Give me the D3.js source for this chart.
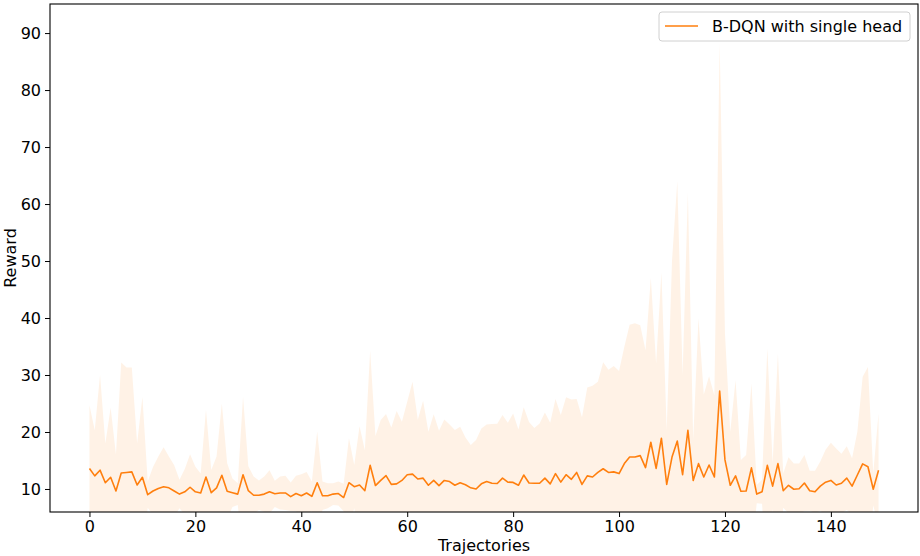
<!DOCTYPE html>
<html>
<head>
<meta charset="utf-8">
<script src="https://cdn.jsdelivr.net/npm/d3@7"></script>
<style>
  html, body { margin: 0; padding: 0; background: #ffffff; }
  svg { display: block; }
  text { font-family: "DejaVu Sans", sans-serif; }
</style>
</head>
<body>
<svg id="chart" width="920" height="556"></svg>
<script>
// ---- data ----
const seriesName = "B-DQN with single head";
const meanReward = [
  13.6, 12.3, 13.3, 11.1, 12.05, 9.65, 12.8, 12.9, 13.0, 10.7,
  12.05, 9.0, 9.65, 10.1, 10.4, 10.2, 9.65, 9.1, 9.5, 10.3,
  9.5, 9.3, 12.1, 9.35, 10.2, 12.4, 9.6, 9.35, 9.1, 12.5,
  9.7, 8.9, 8.9, 9.1, 9.5, 9.15, 9.3, 9.3, 8.65, 9.2,
  8.8, 9.3, 8.7, 11.1, 8.8, 8.8, 9.1, 9.2, 8.5, 11.1,
  10.4, 10.7, 9.7, 14.15, 10.6, 11.5, 12.35, 10.8, 10.9, 11.5,
  12.5, 12.6, 11.75, 11.9, 10.65, 11.5, 10.6, 11.5, 11.3, 10.65,
  11.1, 10.75, 10.2, 10.0, 10.9, 11.3, 11.0, 10.95, 11.9, 11.2,
  11.15, 10.65, 12.45, 11.05, 11.0, 11.0, 11.9, 10.9, 12.7, 11.2,
  12.5, 11.7, 12.9, 10.8, 12.3, 12.1, 12.9, 13.55, 12.9, 13.0,
  12.7, 14.45, 15.6, 15.6, 15.85, 13.75, 18.2, 13.6, 18.9, 10.8,
  15.6, 18.4, 12.5, 20.3, 11.5, 14.45, 12.1, 14.2, 12.1, 27.2,
  15.1, 10.65, 12.3, 9.6, 9.65, 13.7, 9.1, 9.5, 14.15, 10.5,
  14.45, 9.7, 10.65, 9.95, 10.05, 11.05, 9.7, 9.5, 10.5, 11.2,
  11.5, 10.7, 11.0, 11.9, 10.5, 12.45, 14.4, 13.9, 9.95, 13.3
];
const stdReward = [
  11.1, 8.0, 16.7, 6.9, 12.2, 6.4, 19.4, 18.4, 18.3, 7.3,
  14.1, 2.3, 4.2, 5.6, 6.9, 5.5, 4.5, 2.5, 4.0, 5.8,
  4.4, 3.4, 11.8, 4.0, 5.5, 12.6, 4.9, 2.5, 1.9, 13.7,
  4.3, 3.3, 2.6, 3.1, 3.8, 2.3, 2.9, 3.0, 2.5, 3.1,
  3.8, 3.7, 2.6, 9.0, 2.5, 2.2, 1.9, 2.1, 2.4, 7.8,
  3.8, 10.3, 7.1, 20.1, 8.7, 10.6, 10.8, 10.0, 12.8, 10.3,
  12.8, 16.2, 10.4, 13.6, 9.4, 11.6, 9.6, 10.7, 10.0, 9.7,
  9.8, 8.3, 7.5, 8.6, 9.7, 10.0, 10.4, 10.5, 11.1, 10.4,
  12.1, 9.8, 11.9, 10.7, 9.7, 10.5, 11.5, 10.7, 13.1, 11.8,
  13.6, 14.0, 12.9, 11.8, 15.5, 16.0, 15.9, 18.7, 18.0, 18.6,
  18.0, 20.5, 23.2, 23.5, 22.9, 20.6, 28.8, 18.4, 29.1, 9.5,
  34.4, 45.6, 17.5, 41.7, 7.1, 25.5, 14.5, 15.6, 14.3, 61.0,
  22.2, 9.4, 16.8, 5.5, 6.3, 14.8, 1.6, 2.1, 20.5, 4.0,
  19.3, 3.0, 4.9, 4.5, 4.4, 4.9, 3.5, 3.7, 4.3, 5.7,
  6.6, 6.4, 5.2, 5.6, 4.9, 7.6, 15.3, 17.5, 2.8, 10.0
];
const trajectories = meanReward.map((_, i) => i);
const xTicks = [0, 20, 40, 60, 80, 100, 120, 140];
const yTicks = [10, 20, 30, 40, 50, 60, 70, 80, 90];
const xLabel = "Trajectories";
const yLabel = "Reward";

// ---- layout ----
const svg = d3.select("#chart");
const L = 50, R = 918, T = 4, B = 512;
const color = "#ff7f0e";

const x = d3.scaleLinear().domain([-7.45, 156.45]).range([L, R]);
const y = d3.scaleLinear().domain([5.96, 95.1]).range([B, T]);

const data = trajectories.map(i => ({ i, m: meanReward[i], s: stdReward[i] }));

svg.append("defs").append("clipPath").attr("id", "plotclip")
  .append("rect").attr("x", L).attr("y", T).attr("width", R - L).attr("height", B - T);

const plot = svg.append("g").attr("clip-path", "url(#plotclip)");

plot.append("path")
  .datum(data)
  .attr("fill", color)
  .attr("fill-opacity", 0.1)
  .attr("stroke", "none")
  .attr("d", d3.area()
    .x(d => x(d.i))
    .y0(d => y(d.m - d.s))
    .y1(d => y(d.m + d.s)));

plot.append("path")
  .datum(data)
  .attr("fill", "none")
  .attr("stroke", color)
  .attr("stroke-width", 1.6)
  .attr("stroke-linejoin", "round")
  .attr("d", d3.line().x(d => x(d.i)).y(d => y(d.m)));

// axes
const xAxis = d3.axisBottom(x).tickValues(xTicks).tickSize(5).tickPadding(4).tickFormat(d3.format("d"));
const yAxis = d3.axisLeft(y).tickValues(yTicks).tickSize(5).tickPadding(4).tickFormat(d3.format("d"));

const gx = svg.append("g").attr("transform", `translate(0,${B})`).call(xAxis);
const gy = svg.append("g").attr("transform", `translate(${L},0)`).call(yAxis);
[gx, gy].forEach(g => {
  g.select(".domain").remove();
  g.selectAll(".tick line").attr("stroke", "#000").attr("stroke-width", 1);
  g.selectAll(".tick text").attr("fill", "#000").style("font-size", "16px")
    .style("font-family", "'DejaVu Sans', sans-serif");
});

// frame
svg.append("rect").attr("x", L).attr("y", T).attr("width", R - L).attr("height", B - T)
  .attr("fill", "none").attr("stroke", "#000").attr("stroke-width", 1.1);

// axis labels
svg.append("text").attr("x", (L + R) / 2).attr("y", 551).attr("text-anchor", "middle")
  .style("font-size", "16px").attr("fill", "#000").text(xLabel);
svg.append("text").attr("transform", `translate(16,${(T + B) / 2}) rotate(-90)`)
  .attr("text-anchor", "middle").style("font-size", "16px").attr("fill", "#000").text(yLabel);

// legend
const lg = svg.append("g");
lg.append("rect").attr("x", 659).attr("y", 12).attr("width", 251).attr("height", 29)
  .attr("rx", 3).attr("fill", "#fff").attr("fill-opacity", 0.8)
  .attr("stroke", "#d0d0d0").attr("stroke-width", 1);
lg.append("line").attr("x1", 665).attr("x2", 698).attr("y1", 26).attr("y2", 26)
  .attr("stroke", color).attr("stroke-width", 1.6);
lg.append("text").attr("x", 712).attr("y", 32).style("font-size", "16px").attr("fill", "#000")
  .text(seriesName);
</script>
</body>
</html>
